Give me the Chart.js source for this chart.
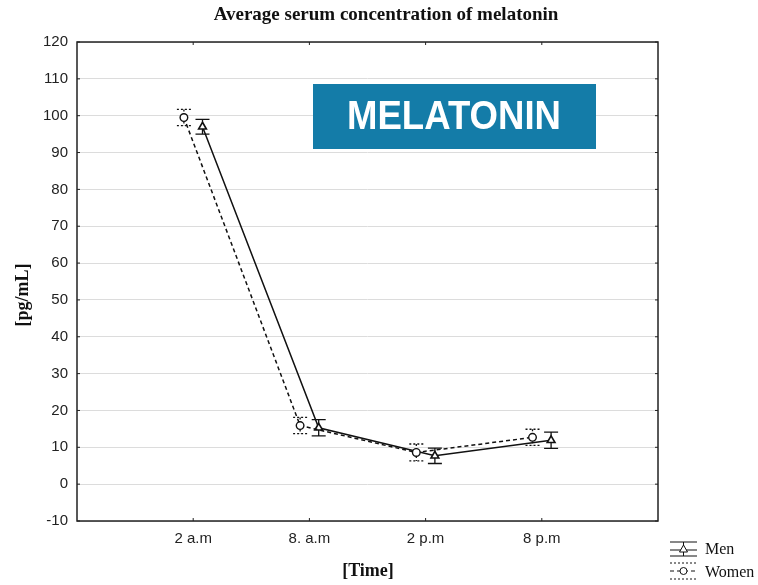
<!DOCTYPE html>
<html>
<head>
<meta charset="utf-8">
<script src="https://cdn.jsdelivr.net/npm/chart.js@4.4.1/dist/chart.umd.min.js"></script>
<style>
html,body{margin:0;padding:0;background:#fff;}
#wrap{width:758px;height:585px;position:relative;}
</style>
</head>
<body>
<div id="wrap"><canvas id="c" width="758" height="585"></canvas></div>
<script>
const categories = ['2 a.m', '8. a.m', '2 p.m', '8 p.m'];
const menMean = [97.0, 15.3, 7.7, 11.9];
const menErr = [2.0, 2.2, 2.1, 2.2];
const womenMean = [99.5, 15.9, 8.6, 12.7];
const womenErr = [2.2, 2.2, 2.3, 2.2];
const yMin = -10, yMax = 120, yStep = 10;
const titleText = 'Average serum concentration of melatonin';
const xTitle = '[Time]';
const yTitle = '[pg/mL]';
const boxText = 'MELATONIN';
const seriesNames = ['Men', 'Women'];

const OFFSET = 0.08;
const menPts = menMean.map((v, i) => ({x: i + 1 + OFFSET, y: v}));
const womenPts = womenMean.map((v, i) => ({x: i + 1 - OFFSET, y: v}));

const extras = {
  id: 'extras',
  beforeDatasetsDraw(chart) {
    const ctx = chart.ctx, xs = chart.scales.x, ys = chart.scales.y;
    const drawErr = (means, errs, off, dashed) => {
      ctx.save();
      ctx.strokeStyle = '#111';
      ctx.lineWidth = 1.3;
      means.forEach((m, i) => {
        const x = xs.getPixelForValue(i + 1 + off);
        const yt = ys.getPixelForValue(m + errs[i]);
        const yb = ys.getPixelForValue(m - errs[i]);
        ctx.setLineDash(dashed ? [2, 2] : []);
        ctx.beginPath();
        ctx.moveTo(x, yt); ctx.lineTo(x, yb);
        ctx.moveTo(x - 7, yt); ctx.lineTo(x + 7, yt);
        ctx.moveTo(x - 7, yb); ctx.lineTo(x + 7, yb);
        ctx.stroke();
      });
      ctx.restore();
    };
    drawErr(womenMean, womenErr, -OFFSET, true);
    drawErr(menMean, menErr, OFFSET, false);
  },
  afterDraw(chart) {
    const ctx = chart.ctx, a = chart.chartArea, xs = chart.scales.x, ys = chart.scales.y;
    ctx.save();
    ctx.strokeStyle = '#222';
    ctx.lineWidth = 1.5;
    ctx.setLineDash([]);
    ctx.strokeRect(a.left, a.top, a.right - a.left, a.bottom - a.top);
    ctx.lineWidth = 1;
    ctx.beginPath();
    for (let v = yMin; v <= yMax; v += yStep) {
      const y = ys.getPixelForValue(v);
      ctx.moveTo(a.left, y); ctx.lineTo(a.left + 3, y);
      ctx.moveTo(a.right, y); ctx.lineTo(a.right - 3, y);
    }
    categories.forEach((c, i) => {
      const x = xs.getPixelForValue(i + 1);
      ctx.moveTo(x, a.bottom); ctx.lineTo(x, a.bottom - 3);
      ctx.moveTo(x, a.top); ctx.lineTo(x, a.top + 3);
    });
    ctx.stroke();
    ctx.fillStyle = '#111';
    ctx.textAlign = 'center';
    ctx.textBaseline = 'middle';
    ctx.font = 'bold 19px "Liberation Serif", "Times New Roman", serif';
    ctx.fillText(titleText, 386, 15);
    ctx.font = 'bold 18px "Liberation Serif", "Times New Roman", serif';
    ctx.fillText(xTitle, 368, 571);
    ctx.save();
    ctx.translate(23, 295);
    ctx.rotate(-Math.PI / 2);
    ctx.font = 'bold 18px "Liberation Serif", "Times New Roman", serif';
    ctx.fillText(yTitle, 0, 0);
    ctx.restore();
    ctx.fillStyle = '#147ca8';
    ctx.fillRect(313, 84, 283, 65);
    ctx.fillStyle = '#fff';
    ctx.font = 'bold 40px "Liberation Sans", Arial, sans-serif';
    ctx.textAlign = 'center';
    ctx.textBaseline = 'middle';
    ctx.fillText(boxText, 454, 118, 214);
    ctx.strokeStyle = '#111';
    ctx.lineWidth = 1;
    ctx.setLineDash([]);
    ctx.beginPath();
    ctx.moveTo(670, 542); ctx.lineTo(697, 542);
    ctx.moveTo(670, 550); ctx.lineTo(697, 550);
    ctx.moveTo(670, 556); ctx.lineTo(697, 556);
    ctx.moveTo(683.5, 542); ctx.lineTo(683.5, 556);
    ctx.stroke();
    ctx.beginPath();
    ctx.moveTo(683.5, 545); ctx.lineTo(687.5, 552); ctx.lineTo(679.5, 552); ctx.closePath();
    ctx.fillStyle = '#fff'; ctx.fill(); ctx.stroke();
    ctx.setLineDash([2, 2]);
    ctx.beginPath();
    ctx.moveTo(670, 563); ctx.lineTo(697, 563);
    ctx.moveTo(670, 579); ctx.lineTo(697, 579);
    ctx.stroke();
    ctx.setLineDash([4, 3]);
    ctx.beginPath();
    ctx.moveTo(670, 571); ctx.lineTo(697, 571);
    ctx.stroke();
    ctx.setLineDash([]);
    ctx.beginPath();
    ctx.arc(683.5, 571, 3.5, 0, Math.PI * 2);
    ctx.fillStyle = '#fff'; ctx.fill(); ctx.stroke();
    ctx.fillStyle = '#111';
    ctx.textAlign = 'left';
    ctx.font = '16px "Liberation Serif", "Times New Roman", serif';
    ctx.fillText(seriesNames[0], 705, 550);
    ctx.fillText(seriesNames[1], 705, 573);
    ctx.restore();
  }
};

new Chart(document.getElementById('c'), {
  type: 'line',
  data: {
    datasets: [
      {
        label: seriesNames[1],
        data: womenPts,
        borderColor: '#111',
        borderWidth: 1.5,
        borderDash: [4, 3],
        pointStyle: 'circle',
        pointRadius: 3.8,
        pointBorderWidth: 1.4,
        pointBackgroundColor: '#fff',
        pointBorderColor: '#111',
        tension: 0
      },
      {
        label: seriesNames[0],
        data: menPts,
        borderColor: '#111',
        borderWidth: 1.5,
        pointStyle: 'triangle',
        pointRadius: 4.5,
        pointBorderWidth: 1.6,
        pointBackgroundColor: '#fff',
        pointBorderColor: '#111',
        tension: 0
      }
    ]
  },
  options: {
    responsive: false,
    animation: false,
    layout: {padding: {left: 0, top: 42, right: 100, bottom: 0}},
    plugins: {legend: {display: false}, title: {display: false}, tooltip: {enabled: false}},
    scales: {
      x: {
        type: 'linear',
        min: 0, max: 5,
        afterFit(s) { s.height = 64; },
        afterBuildTicks(s) { s.ticks = categories.map((c, i) => ({value: i + 1})); },
        grid: {display: false, drawTicks: false},
        border: {display: false},
        ticks: {
          padding: 9,
          color: '#222',
          font: {family: '"Liberation Sans", Arial, sans-serif', size: 15},
          callback: (v) => categories[Math.round(v) - 1] || '',
          maxRotation: 0, autoSkip: false
        }
      },
      y: {
        min: yMin, max: yMax,
        afterFit(s) { s.width = 77; },
        grid: {color: '#dcdcdc', lineWidth: 1, drawTicks: false},
        border: {display: false},
        ticks: {
          stepSize: yStep,
          padding: 9,
          color: '#222',
          font: {family: '"Liberation Sans", Arial, sans-serif', size: 15}
        }
      }
    }
  },
  plugins: [extras]
});
</script>
</body>
</html>
